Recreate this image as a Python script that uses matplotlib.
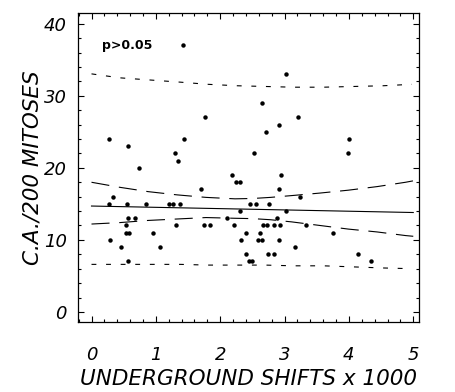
import numpy as np
import matplotlib
matplotlib.use("Agg")
import matplotlib.pyplot as plt
from matplotlib.ticker import MultipleLocator

plt.rcParams['font.family'] = ['DejaVu Sans']
plt.rcParams['lines.scale_dashes'] = False

# scatter points (shifts x 1000, aberrations per 200 mitoses)
shift_x = [1.42, 3.02,
           2.65, 1.76, 3.21, 2.92, 2.71,
           0.27, 1.44, 4.00, 0.56,
           1.29, 2.53, 3.98, 1.34, 0.74,
           2.19, 2.94, 2.24, 2.31, 1.70, 2.91, 0.33, 3.24,
           0.27, 0.55, 0.85, 1.20, 1.27, 1.37, 2.47, 2.55, 2.76,
           2.30, 3.02,
           0.56, 0.67, 2.10, 2.89,
           0.53, 1.31, 1.75, 1.84, 2.22, 2.66, 2.73, 2.84, 2.93, 3.33,
           0.53, 0.59, 0.96, 2.40, 2.62, 3.76,
           0.29, 2.32, 2.59, 2.65, 2.92,
           0.46, 1.07, 3.17,
           2.40, 2.74, 2.84, 4.14,
           0.56, 2.44, 2.50, 4.34]
ca_y = [37, 33,
        29, 27, 27, 26, 25,
        24, 24, 24, 23,
        22, 22, 22, 21, 20,
        19, 19, 18, 18, 17, 17, 16, 16,
        15, 15, 15, 15, 15, 15, 15, 15, 15,
        14, 14,
        13, 13, 13, 13,
        12, 12, 12, 12, 12, 12, 12, 12, 12, 12,
        11, 11, 11, 11, 11, 11,
        10, 10, 10, 10, 10,
        9, 9, 9,
        8, 8, 8, 8,
        7, 7, 7, 7]

# regression line
fit_x = [0.0, 5.0]
fit_y = [14.7, 13.8]

# confidence band (long dashes)
conf_x = [0.0, 0.44, 0.88, 1.33, 1.78, 2.23, 2.51, 2.78, 3.11, 3.55, 3.99, 4.44, 4.88, 5.0]
conf_hi = [18.0, 17.3, 16.7, 16.25, 15.9, 15.7, 15.75, 15.9, 16.15, 16.5, 16.9, 17.4, 18.0, 18.2]
conf_lo = [12.2, 12.4, 12.7, 12.9, 13.1, 13.0, 12.95, 12.8, 12.5, 12.0, 11.5, 11.1, 10.6, 10.5]

# prediction band (short dashes)
pred_x = [0.0, 0.44, 0.91, 1.38, 1.81, 2.26, 2.70, 3.13, 3.60, 4.07, 4.53, 4.98]
pred_hi = [33.05, 32.5, 32.2, 31.9, 31.6, 31.4, 31.3, 31.2, 31.2, 31.3, 31.4, 31.6]
pred_lo = [6.6, 6.6, 6.6, 6.6, 6.5, 6.5, 6.5, 6.4, 6.4, 6.25, 6.1, 6.0]

fig = plt.figure(figsize=(4.55, 3.92), dpi=100)
ax = fig.add_axes([0.1714, 0.1786, 0.7496, 0.7882])

ax.plot(shift_x, ca_y, 'o', color='black', ms=3.2, mew=0)
ax.plot(fit_x, fit_y, '-', color='black', lw=0.8)
ax.plot(conf_x, conf_hi, color='black', lw=0.8, dashes=(13, 7))
ax.plot(conf_x, conf_lo, color='black', lw=0.8, dashes=(13, 7))
ax.plot(pred_x, pred_hi, color='black', lw=0.8, dashes=(3.5, 7))
ax.plot(pred_x, pred_lo, color='black', lw=0.8, dashes=(3.5, 7))

ax.text(0.16, 37, "p>0.05", fontsize=9, fontweight='bold', va='center')

ax.set_xlim(-0.21, 5.09)
ax.set_ylim(-1.4, 41.5)
ax.xaxis.set_major_locator(MultipleLocator(1))
ax.xaxis.set_minor_locator(MultipleLocator(0.2))
ax.yaxis.set_major_locator(MultipleLocator(10))
ax.yaxis.set_minor_locator(MultipleLocator(2))
ax.tick_params(which='both', direction='in', top=True, right=True, width=0.8)
ax.tick_params(which='major', length=4)
ax.tick_params(which='minor', length=2)
ax.tick_params(axis='x', which='major', pad=17)
ax.tick_params(axis='y', which='major', pad=8)
for lab in ax.get_xticklabels() + ax.get_yticklabels():
    lab.set_fontstyle('italic')
    lab.set_fontsize(13)
for s in ax.spines.values():
    s.set_linewidth(0.9)

ax.set_xlabel("UNDERGROUND SHIFTS x 1000", fontsize=15.5, fontstyle='italic', labelpad=4)
ax.set_ylabel("C.A./200 MITOSES", fontsize=15.5, fontstyle='italic', labelpad=1)

fig.savefig("out.png", dpi=100)
